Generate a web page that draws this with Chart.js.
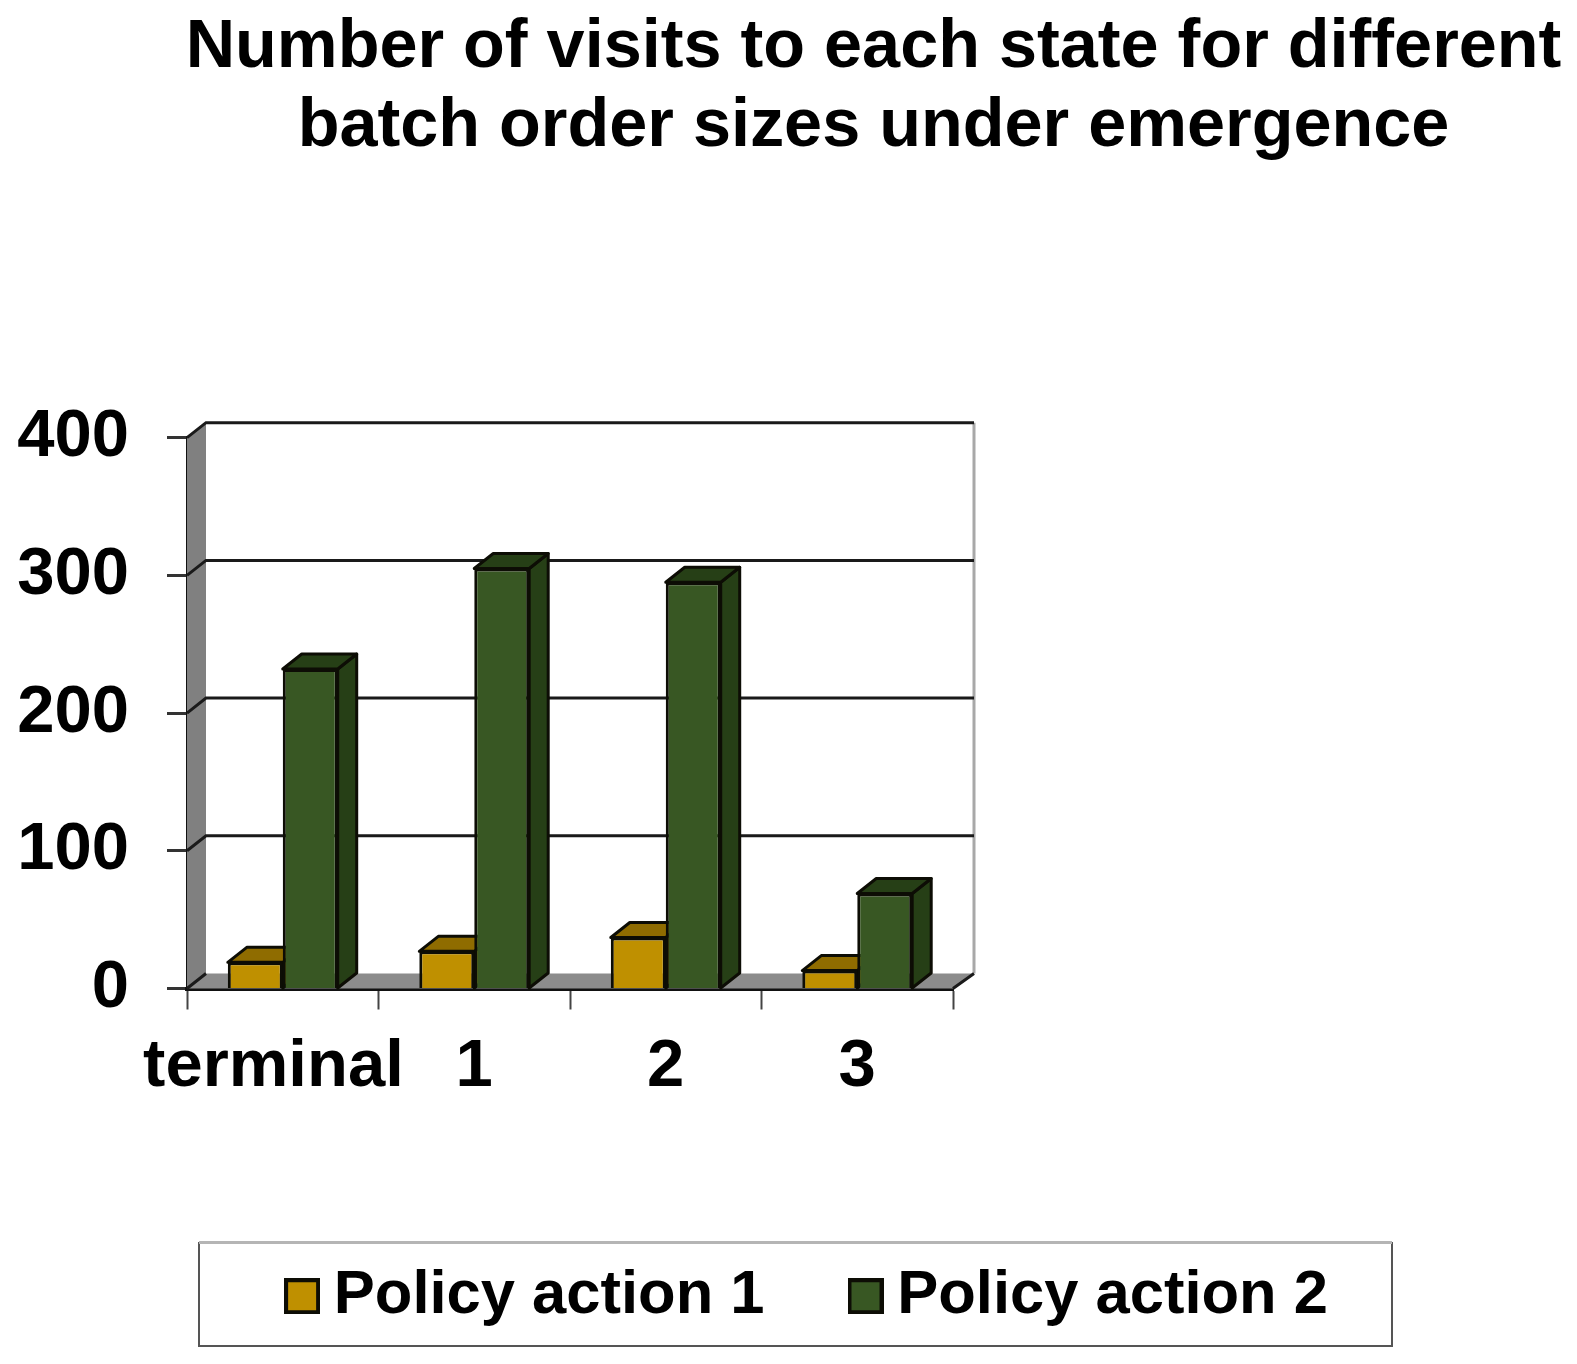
<!DOCTYPE html>
<html>
<head>
<meta charset="utf-8">
<title>Number of visits to each state</title>
<script src="https://cdn.jsdelivr.net/npm/chart.js@4"></script>
<style>
    html, body { margin: 0; padding: 0; background: #fff; }
    canvas { display: block; filter: blur(0.7px); }
</style>
</head>
<body>
<canvas id="visitsChart" width="1577" height="1364"></canvas>
<script>
const categories = ['terminal', '1', '2', '3'];
const action1Visits = [19, 27, 37, 13];
const action2Visits = [232, 305, 295, 69];
const seriesNames = ['Policy action 1', 'Policy action 2'];
const titleLines = ['Number of visits to each state for different', 'batch order sizes under emergence'];

// fake 3d depth of the excel style bars
const depthX = 19;
const depthY = 15;
const wallExtra = 2;
const edge = '#0d0d05';
const action1Faces = { front: '#bf9000', top: '#8f6c00', side: '#8f6c00' };
const action2Faces = { front: '#385723', top: '#263f16', side: '#263f16' };
const faces = [action1Faces, action2Faces];

function poly(ctx, pts, fill, stroke, lw) {
    ctx.beginPath();
    pts.forEach((p, i) => i ? ctx.lineTo(p[0], p[1]) : ctx.moveTo(p[0], p[1]));
    ctx.closePath();
    if (fill) {
        ctx.fillStyle = fill;
        ctx.fill();
    }
    if (stroke) {
        ctx.strokeStyle = stroke;
        ctx.lineWidth = lw;
        ctx.stroke();
    }
}

const swatches = faces.map(f => {
    const c = document.createElement('canvas');
    c.width = 36;
    c.height = 36;
    const g = c.getContext('2d');
    g.fillStyle = '#0d0d05';
    g.fillRect(0, 0, 36, 36);
    g.fillStyle = f.front;
    g.fillRect(4, 4, 28, 28);
    return c;
});

const room3d = {
    id: 'room3d',
    afterLayout(chart) {
        chart.titleBlock.left += 85;
        chart.titleBlock.right += 85;
        chart.legend.left += 26;
        chart.legend.right += 26;
        chart.legend.top -= 27;
    },
    beforeDatasetsDraw(chart) {
        const { ctx, chartArea: a, scales: { y } } = chart;
        const backRight = a.right + depthX + wallExtra;
        ctx.save();
        // left wall
        poly(ctx, [[a.left, a.top], [a.left + depthX, a.top - depthY], [a.left + depthX, a.bottom - depthY], [a.left, a.bottom]], '#808080');
        // floor
        poly(ctx, [[a.left, a.bottom], [a.left + depthX, a.bottom - depthY], [backRight, a.bottom - depthY], [a.right, a.bottom]], '#8c8c8c');
        // right edge of back wall
        ctx.strokeStyle = '#a8a8a8';
        ctx.lineWidth = 3;
        ctx.beginPath();
        ctx.moveTo(backRight, a.top - depthY);
        ctx.lineTo(backRight, a.bottom - depthY);
        ctx.stroke();
        // grid lines run along the back wall and step down the side wall
        ctx.strokeStyle = '#1a1a1a';
        ctx.lineWidth = 3;
        y.ticks.forEach(t => {
            const py = y.getPixelForValue(t.value);
            ctx.beginPath();
            ctx.moveTo(a.left, py);
            ctx.lineTo(a.left + depthX, py - depthY);
            if (t.value > 0) {
                ctx.lineTo(backRight, py - depthY);
            } else {
                ctx.moveTo(a.right, py);
                ctx.lineTo(backRight, py - depthY);
            }
            ctx.stroke();
        });
        // side and top faces go down first so the front faces cover them
        ctx.lineJoin = 'round';
        chart.data.datasets.forEach((ds, i) => {
            const f = faces[i];
            chart.getDatasetMeta(i).data.forEach(bar => {
                const right = bar.x + bar.width / 2;
                const left = bar.x - bar.width / 2;
                poly(ctx, [[right, bar.y], [right + depthX, bar.y - depthY], [right + depthX, bar.base - depthY], [right, bar.base]], f.side, edge, 3);
                poly(ctx, [[left, bar.y], [left + depthX, bar.y - depthY], [right + depthX, bar.y - depthY], [right, bar.y]], f.top, edge, 3);
            });
        });
        ctx.restore();
    },
    afterDraw(chart) {
        const { ctx } = chart;
        ctx.save();
        ctx.strokeStyle = '#555';
        ctx.lineWidth = 2;
        ctx.strokeRect(199, 1243, 1193, 103);
        ctx.fillStyle = '#b5b5b5';
        ctx.fillRect(199, 1241, 1193, 3);
        ctx.restore();
    }
};

document.addEventListener('DOMContentLoaded', () => {
    const ctx = document.getElementById('visitsChart');
    new Chart(ctx, {
        type: 'bar',
        data: {
            labels: categories,
            datasets: [
                { label: seriesNames[0], data: action1Visits, backgroundColor: action1Faces.front, borderColor: edge, borderWidth: 3 },
                { label: seriesNames[1], data: action2Visits, backgroundColor: action2Faces.front, borderColor: edge, borderWidth: 3 }
            ]
        },
        options: {
            responsive: false,
            animation: false,
            categoryPercentage: 0.574,
            barPercentage: 1,
            scales: {
                x: {
                    afterFit: scale => { scale.height = 204; },
                    grid: { drawOnChartArea: false, tickLength: 21, tickColor: '#444', tickWidth: 2 },
                    border: { color: '#111', width: 4 },
                    ticks: {
                        color: '#000',
                        padding: 18,
                        maxRotation: 0,
                        autoSkip: false,
                        font: { family: 'Liberation Sans', weight: 'bold', size: 67 },
                        // the first label sits a bit left of its slot in the original
                        callback(value, i) {
                            const label = this.getLabelForValue(value);
                            return i === 0 ? label + ' ' : label;
                        }
                    }
                },
                y: {
                    min: 0,
                    max: 400,
                    afterFit: scale => { scale.width = 187; },
                    grid: { drawOnChartArea: false, tickLength: 20, tickColor: '#333', tickWidth: 3 },
                    border: { color: '#111', width: 3 },
                    ticks: { stepSize: 100, color: '#000', padding: 38, font: { family: 'Liberation Sans', weight: 'bold', size: 67 } }
                },
                // empty axis, only keeps the plot in the left part of the page
                spacer: {
                    type: 'linear',
                    position: 'right',
                    afterFit: scale => { scale.width = 624; },
                    grid: { display: false },
                    border: { display: false },
                    ticks: { display: false }
                }
            },
            plugins: {
                tooltip: { enabled: false },
                title: {
                    display: true,
                    text: titleLines,
                    color: '#000',
                    font: { family: 'Liberation Sans', weight: 'bold', size: 68.4, lineHeight: 1.16 },
                    padding: { top: 8, bottom: 271 }
                },
                legend: {
                    position: 'bottom',
                    labels: {
                        color: '#000',
                        font: { family: 'Liberation Sans', weight: 'bold', size: 61.5 },
                        usePointStyle: true,
                        pointStyleWidth: 2,
                        boxHeight: 36,
                        padding: 100,
                        generateLabels(chart) {
                            const items = Chart.defaults.plugins.legend.labels.generateLabels(chart);
                            items.forEach((item, i) => { item.pointStyle = swatches[i]; });
                            return items;
                        }
                    }
                }
            }
        },
        plugins: [room3d]
    });
});
</script>
</body>
</html>
